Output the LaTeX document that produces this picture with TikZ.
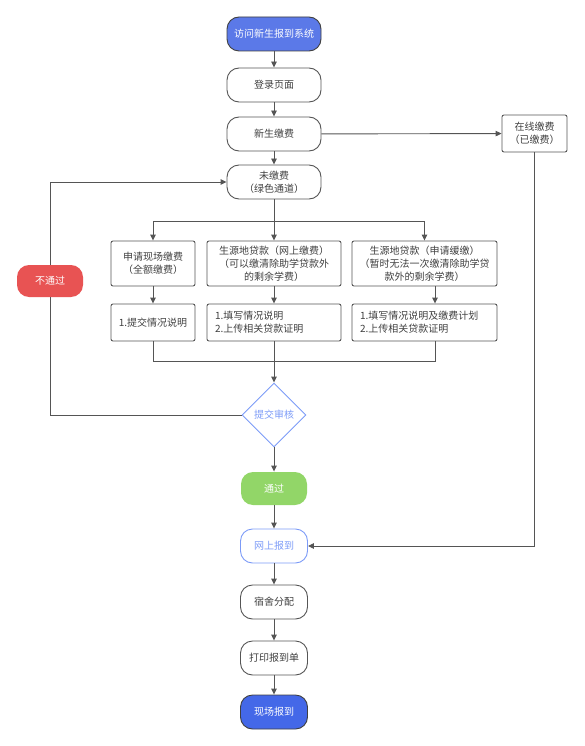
\documentclass[tikz,border=0pt]{standalone}
\usepackage{fontspec}
\setmainfont{Noto Sans CJK SC}
\usetikzlibrary{arrows.meta,shapes.geometric}
\definecolor{linegray}{HTML}{555555}
\definecolor{textgray}{HTML}{404040}
\definecolor{startblue}{HTML}{5B79E8}
\definecolor{endblue}{HTML}{4468E8}
\definecolor{passgreen}{HTML}{92D668}
\definecolor{failred}{HTML}{E85353}
\definecolor{lineblue}{HTML}{7C9BF7}
\tikzset{
  flow/.style={draw=linegray,line width=0.9pt,rounded corners=12pt,minimum width=67pt,minimum height=34pt,
    inner sep=0pt,align=center,text=textgray,font=\fontsize{10}{13}\selectfont},
  box/.style={draw=linegray,line width=0.9pt,rounded corners=2pt,minimum height=37pt,
    inner sep=0pt,align=center,text=textgray,font=\fontsize{10}{13}\selectfont},
  doc/.style={box,align=left,inner xsep=8pt},
  link/.style={draw=linegray,line width=0.9pt,-{Triangle[length=6pt,width=5.5pt]}},
  line/.style={draw=linegray,line width=0.9pt}
}
\begin{document}
\begin{tikzpicture}[x=1pt,y=-1pt]
\useasboundingbox (0,0) rectangle (584,746);
% main column
\node[flow,minimum width=94pt,fill=startblue,draw=textgray,text=white] (start) at (274,34) {访问新生报到系统};
\node[flow,minimum width=94pt] (login) at (274,85) {登录页面};
\node[flow,minimum width=94pt] (pay) at (274,134) {新生缴费};
\node[flow,minimum width=94pt] (unpaid) at (274,182) {未缴费\\（绿色通道）};
\node[box,minimum width=65pt] (online) at (534.5,133.5) {在线缴费\\（已缴费）};
% three ways
\node[box,minimum width=84pt,minimum height=45pt] (apply1) at (153,263.5) {申请现场缴费\\（全额缴费）};
\node[box,minimum width=134pt,minimum height=45pt] (apply2) at (274,263.5) {生源地贷款（网上缴费）\\（可以缴清除助学贷款外\\的剩余学费）};
\node[box,minimum width=145pt,minimum height=45pt] (apply3) at (424.5,263.5) {生源地贷款（申请缓缴）\\（暂时无法一次缴清除助学贷\\款外的剩余学费）};
\node[box,minimum width=84pt] (doc1) at (153,322.5) {1.提交情况说明};
\node[doc,text width=118pt] (doc2) at (274,322.5) {1.填写情况说明\\2.上传相关贷款证明};
\node[doc,text width=129pt] (doc3) at (424.5,322.5) {1.填写情况说明及缴费计划\\2.上传相关贷款证明};
\coordinate (split) at (274,221);
\coordinate (merge) at (274,361);
% check
\node[diamond,draw=lineblue,line width=0.9pt,minimum width=64pt,minimum height=64pt,inner sep=0pt,
  text=lineblue,font=\fontsize{10}{13}\selectfont] (check) at (274,415) {提交审核};
\node[flow,draw=none,fill=failred,text=white,minimum width=66pt,minimum height=32pt] (fail) at (50,281) {不通过};
\node[flow,draw=none,fill=passgreen,text=white,minimum width=66pt,minimum height=33pt] (pass) at (274,488.5) {通过};
\node[flow,draw=lineblue,text=lineblue] (reg) at (274,546) {网上报到};
\node[flow] (dorm) at (274,602) {宿舍分配};
\node[flow] (print) at (274,658) {打印报到单};
\node[flow,fill=endblue,draw=textgray,text=white] (onsite) at (274,712) {现场报到};
% connectors
\draw[link] (start) -- (login);
\draw[link] (login) -- (pay);
\draw[link] (pay) -- (unpaid);
\draw[link] (pay) -- (online);
\draw[link] (online.south) |- (reg.east);
\draw[line] (unpaid) -- (split);
\draw[link] (split) -| (apply1.north);
\draw[link] (split) -- (apply2);
\draw[link] (split) -| (apply3.north);
\draw[link] (apply1) -- (doc1);
\draw[link] (apply2) -- (doc2);
\draw[link] ([xshift=10.5pt]apply3.south) -- ([xshift=10.5pt]doc3.north);
\draw[line] (doc1.south) |- (merge);
\draw[line] ([xshift=10.5pt]doc3.south) |- (merge);
\draw[link] (doc2) -- (check);
\draw[line] (check.west) -| (fail.south);
\draw[link] (fail.north) |- (unpaid.west);
\draw[link] (check) -- (pass);
\draw[link] (pass) -- (reg);
\draw[link] (reg) -- (dorm);
\draw[link] (dorm) -- (print);
\draw[link] (print) -- (onsite);
\end{tikzpicture}
\end{document}
